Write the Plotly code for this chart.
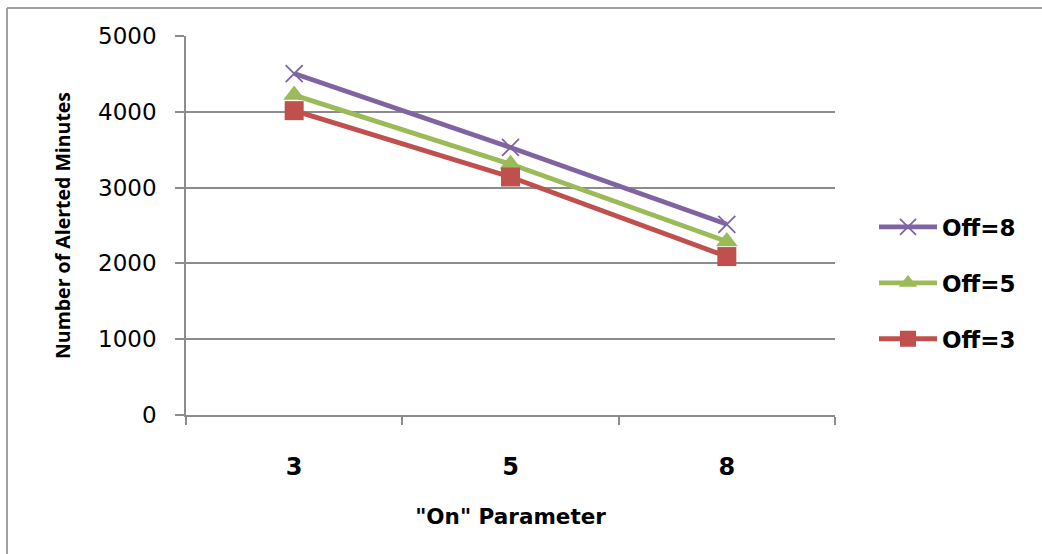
import plotly.graph_objects as go

# "On" parameter categories and alerted-minute counts per "Off" setting
on_params = ["3", "5", "8"]
off3 = [4015, 3140, 2090]
off5 = [4220, 3310, 2290]
off8 = [4505, 3530, 2515]

W, H = 1042, 554
L, R, T, B = 186, 207, 36, 139
pw, ph = W - L - R, H - T - B

def px_x(x):
    return (x - L) / pw

def px_y(y):
    return (H - B - y) / ph

# Listed in legend order (top to bottom)
series = [
    ("Off=8", off8, "#8064A2", dict(symbol="x-thin", size=17,
                                    line=dict(width=1.8, color="#8064A2"))),
    ("Off=5", off5, "#9BBB59", dict(symbol="triangle-up", size=19)),
    ("Off=3", off3, "#C0504D", dict(symbol="square", size=19)),
]

fig = go.Figure()
for name, vals, color, mk in series:
    fig.add_trace(go.Scatter(
        x=on_params, y=vals, name=name, mode="lines+markers",
        legendgroup=name,
        line=dict(color=color, width=4.8),
        marker=dict(color=color, **mk),
    ))

grey = "#8C8C8C"
fig.update_layout(
    width=W, height=H,
    margin=dict(l=L, r=R, t=T, b=B, autoexpand=False),
    paper_bgcolor="white", plot_bgcolor="white",
    showlegend=True,
    legend=dict(
        x=px_x(874), y=px_y(283), xanchor="left", yanchor="middle",
        traceorder="grouped", tracegroupgap=23,
        itemwidth=58,
        font=dict(family="DejaVu Sans", size=23, color="black", weight="bold"),
        bgcolor="rgba(0,0,0,0)",
    ),
    xaxis=dict(
        type="category", tickson="boundaries", ticks="outside", ticklen=8,
        tickcolor=grey, tickwidth=1.5, showline=True, linecolor=grey,
        linewidth=1.5, showgrid=False, zeroline=False,
        ticklabelstandoff=29,
        tickfont=dict(family="DejaVu Sans", size=24, color="black", weight="bold"),
        title=dict(text='"On" Parameter', standoff=29,
                   font=dict(family="DejaVu Sans", size=21.5, color="black",
                             weight="bold")),
        range=[-0.5, 2.5],
    ),
    yaxis=dict(
        range=[0, 5000], dtick=1000, ticks="outside", ticklen=9,
        tickcolor=grey, tickwidth=1.5, showline=True, linecolor=grey,
        linewidth=1.5, showgrid=True, gridcolor=grey, gridwidth=1.5,
        zeroline=False, ticklabelstandoff=14,
        tickfont=dict(family="DejaVu Sans", size=23, color="black"),
        title=dict(text="Number of Alerted Minutes", standoff=22,
                   font=dict(family="Open Sans", size=19.5, color="black",
                             weight="bold")),
    ),
    shapes=[
        dict(type="line", xref="paper", yref="paper",
             x0=px_x(7), x1=px_x(1050), y0=px_y(8), y1=px_y(8),
             line=dict(color="#A0A0A0", width=2)),
        dict(type="line", xref="paper", yref="paper",
             x0=px_x(7), x1=px_x(7), y0=px_y(8), y1=px_y(560),
             line=dict(color="#A0A0A0", width=2)),
    ],
)

fig.write_html("out.html")
